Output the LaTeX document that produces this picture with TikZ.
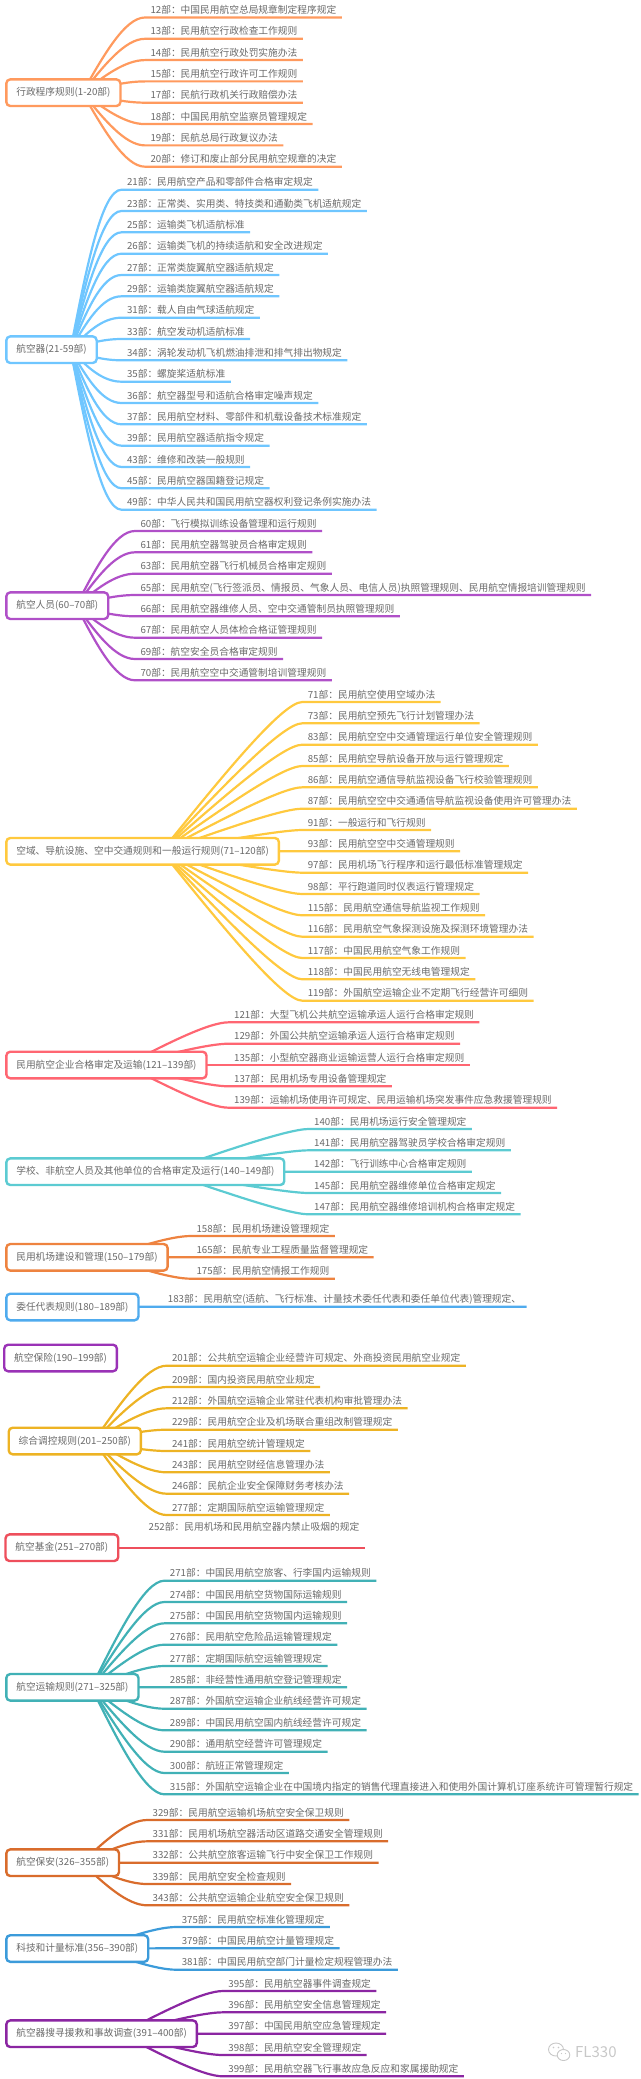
\documentclass[tikz,border=0pt]{standalone}
\usepackage{fontspec}
\setmainfont{Noto Sans CJK SC}
\usepackage{xcolor}
\usepackage{tikz}
\usetikzlibrary{calc,backgrounds}
\definecolor{ink}{HTML}{6A6A6A}
\definecolor{admorange}{HTML}{FF9A5E}
\definecolor{craftsky}{HTML}{6FC6FF}
\definecolor{crewviolet}{HTML}{B050C8}
\definecolor{spaceyellow}{HTML}{FFC93E}
\definecolor{carrierred}{HTML}{FF6672}
\definecolor{schoolcyan}{HTML}{5CCBD2}
\definecolor{portorange}{HTML}{EE8340}
\definecolor{delegblue}{HTML}{4FABEE}
\definecolor{insurpurple}{HTML}{9A32B6}
\definecolor{macrogold}{HTML}{EDB324}
\definecolor{fundred}{HTML}{EE4F5C}
\definecolor{transteal}{HTML}{41B1B6}
\definecolor{securrust}{HTML}{D96C2C}
\definecolor{metroblue}{HTML}{3C9BDA}
\definecolor{rescueplum}{HTML}{8B26A2}
\definecolor{stamp}{HTML}{C8C8C8}
\tikzset{
  leaf/.style={anchor=south west, inner xsep=5.3, inner ysep=0, text height=8, text depth=3.6, text=ink, font=\fontsize{9.72}{12}\selectfont},
  rootbox/.style={draw=#1, line width=2.4, rounded corners=4, fill=white, anchor=west, minimum height=26.6, inner xsep=10, inner ysep=0, text=ink, font=\fontsize{9.72}{12}\selectfont},
  twig/.style={line width=2.2},
}
\newcommand{\twigs}[3]{%
  \begin{scope}[on background layer]
  \coordinate (twigstart) at ($(#2.center)+(19,0)$);
  \foreach \n in {#3} {
    \coordinate (bend) at ($(\n.south west)+(-20,0)$);
    \draw[twig, draw=#1] (twigstart) .. controls ($(twigstart)!0.5!(bend)$) and (bend) .. (\n.south west) -- (\n.south east);
  }
  \end{scope}}

\begin{document}
\begin{tikzpicture}[x=1pt, y=-1pt]
\useasboundingbox (0,0) rectangle (640,2079);

% Administrative rules
\node[rootbox=admorange] (adm) at (5.1,92.7) {行政程序规则(1-20部)};
\node[leaf] (p12) at (145,17.5) {12部：中国民用航空总局规章制定程序规定};
\node[leaf] (p13) at (145,38.8) {13部：民用航空行政检查工作规则};
\node[leaf] (p14) at (145,60.1) {14部：民用航空行政处罚实施办法};
\node[leaf] (p15) at (145,81.4) {15部：民用航空行政许可工作规则};
\node[leaf] (p17) at (145,102.7) {17部：民航行政机关行政赔偿办法};
\node[leaf] (p18) at (145,124.1) {18部：中国民用航空监察员管理规定};
\node[leaf] (p19) at (145,145.4) {19部：民航总局行政复议办法};
\node[leaf] (p20) at (145,166.7) {20部：修订和废止部分民用航空规章的决定};
\twigs{admorange}{adm}{p12,p13,p14,p15,p17,p18,p19,p20}

% Aircraft
\node[rootbox=craftsky] (craft) at (5.1,349.7) {航空器(21-59部)};
\node[leaf] (p21) at (121.5,189.7) {21部：民用航空产品和零部件合格审定规定};
\node[leaf] (p23) at (121.5,211) {23部：正常类、实用类、特技类和通勤类飞机适航规定};
\node[leaf] (p25) at (121.5,232.3) {25部：运输类飞机适航标准};
\node[leaf] (p26) at (121.5,253.7) {26部：运输类飞机的持续适航和安全改进规定};
\node[leaf] (p27) at (121.5,275) {27部：正常类旋翼航空器适航规定};
\node[leaf] (p29) at (121.5,296.3) {29部：运输类旋翼航空器适航规定};
\node[leaf] (p31) at (121.5,317.7) {31部：载人自由气球适航规定};
\node[leaf] (p33) at (121.5,339) {33部：航空发动机适航标准};
\node[leaf] (p34) at (121.5,360.3) {34部：涡轮发动机飞机燃油排泄和排气排出物规定};
\node[leaf] (p35) at (121.5,381.7) {35部：螺旋桨适航标准};
\node[leaf] (p36) at (121.5,403) {36部：航空器型号和适航合格审定噪声规定};
\node[leaf] (p37) at (121.5,424.3) {37部：民用航空材料、零部件和机载设备技术标准规定};
\node[leaf] (p39) at (121.5,445.7) {39部：民用航空器适航指令规定};
\node[leaf] (p43) at (121.5,467) {43部：维修和改装一般规则};
\node[leaf] (p45) at (121.5,488.3) {45部：民用航空器国籍登记规定};
\node[leaf] (p49) at (121.5,509.7) {49部：中华人民共和国民用航空器权利登记条例实施办法};
\twigs{craftsky}{craft}{p21,p23,p25,p26,p27,p29,p31,p33,p34,p35,p36,p37,p39,p43,p45,p49}

% Aviation personnel
\node[rootbox=crewviolet] (crew) at (5.1,605.7) {航空人员(60–70部)};
\node[leaf] (p60) at (135,531) {60部：飞行模拟训练设备管理和运行规则};
\node[leaf] (p61) at (135,552.3) {61部：民用航空器驾驶员合格审定规则};
\node[leaf] (p63) at (135,573.7) {63部：民用航空器飞行机械员合格审定规则};
\node[leaf] (p65) at (135,595) {65部：民用航空(飞行签派员、情报员、气象人员、电信人员)执照管理规则、民用航空情报培训管理规则};
\node[leaf] (p66) at (135,616.3) {66部：民用航空器维修人员、空中交通管制员执照管理规则};
\node[leaf] (p67) at (135,637.7) {67部：民用航空人员体检合格证管理规则};
\node[leaf] (p69) at (135,659) {69部：航空安全员合格审定规则};
\node[leaf] (p70) at (135,680.3) {70部：民用航空空中交通管制培训管理规则};
\twigs{crewviolet}{crew}{p60,p61,p63,p65,p66,p67,p69,p70}

% Airspace and general operating rules
\node[rootbox=spaceyellow] (space) at (5.1,851.3) {空域、导航设施、空中交通规则和一般运行规则(71–120部)};
\node[leaf] (p71) at (302.3,702) {71部：民用航空使用空域办法};
\node[leaf] (p73) at (302.3,723.3) {73部：民用航空预先飞行计划管理办法};
\node[leaf] (p83) at (302.3,744.7) {83部：民用航空空中交通管理运行单位安全管理规则};
\node[leaf] (p85) at (302.3,766) {85部：民用航空导航设备开放与运行管理规定};
\node[leaf] (p86) at (302.3,787.3) {86部：民用航空通信导航监视设备飞行校验管理规则};
\node[leaf] (p87) at (302.3,808.7) {87部：民用航空空中交通通信导航监视设备使用许可管理办法};
\node[leaf] (p91) at (302.3,830) {91部：一般运行和飞行规则};
\node[leaf] (p93) at (302.3,851.3) {93部：民用航空空中交通管理规则};
\node[leaf] (p97) at (302.3,872.7) {97部：民用机场飞行程序和运行最低标准管理规定};
\node[leaf] (p98) at (302.3,894) {98部：平行跑道同时仪表运行管理规定};
\node[leaf] (p115) at (302.3,915.3) {115部：民用航空通信导航监视工作规则};
\node[leaf] (p116) at (302.3,936.7) {116部：民用航空气象探测设施及探测环境管理办法};
\node[leaf] (p117) at (302.3,958) {117部：中国民用航空气象工作规则};
\node[leaf] (p118) at (302.3,979.3) {118部：中国民用航空无线电管理规定};
\node[leaf] (p119) at (302.3,1000.7) {119部：外国航空运输企业不定期飞行经营许可细则};
\twigs{spaceyellow}{space}{p71,p73,p83,p85,p86,p87,p91,p93,p97,p98,p115,p116,p117,p118,p119}

% Carriers
\node[rootbox=carrierred] (carrier) at (5.1,1065) {民用航空企业合格审定及运输(121–139部)};
\node[leaf] (p121) at (228.7,1022.3) {121部：大型飞机公共航空运输承运人运行合格审定规则};
\node[leaf] (p129) at (228.7,1043.7) {129部：外国公共航空运输承运人运行合格审定规则};
\node[leaf] (p135) at (228.7,1065) {135部：小型航空器商业运输运营人运行合格审定规则};
\node[leaf] (p137) at (228.7,1086.3) {137部：民用机场专用设备管理规定};
\node[leaf] (p139) at (228.7,1107.7) {139部：运输机场使用许可规定、民用运输机场突发事件应急救援管理规则};
\twigs{carrierred}{carrier}{p121,p129,p135,p137,p139}

% Schools and other units
\node[rootbox=schoolcyan] (school) at (5.1,1171.7) {学校、非航空人员及其他单位的合格审定及运行(140–149部)};
\node[leaf] (p140) at (308.7,1129) {140部：民用机场运行安全管理规定};
\node[leaf] (p141) at (308.7,1150.3) {141部：民用航空器驾驶员学校合格审定规则};
\node[leaf] (p142) at (308.7,1171.7) {142部：飞行训练中心合格审定规则};
\node[leaf] (p145) at (308.7,1193) {145部：民用航空器维修单位合格审定规定};
\node[leaf] (p147) at (308.7,1214.3) {147部：民用航空器维修培训机构合格审定规定};
\twigs{schoolcyan}{school}{p140,p141,p142,p145,p147}

% Airports
\node[rootbox=portorange] (port) at (5.1,1257.3) {民用机场建设和管理(150–179部)};
\node[leaf] (p158) at (191,1236) {158部：民用机场建设管理规定};
\node[leaf] (p165) at (191,1257.3) {165部：民航专业工程质量监督管理规定};
\node[leaf] (p175) at (191,1278.7) {175部：民用航空情报工作规则};
\twigs{portorange}{port}{p158,p165,p175}

% Delegates
\node[rootbox=delegblue] (deleg) at (5.1,1307) {委任代表规则(180–189部)};
\node[leaf] (p183) at (162.4,1306.7) {183部：民用航空(适航、飞行标准、计量技术委任代表和委任单位代表)管理规定、};
\twigs{delegblue}{deleg}{p183}

% Insurance
\node[rootbox=insurpurple] (insur) at (3,1358) {航空保险(190–199部)};

% Macro control
\node[rootbox=macrogold] (macro) at (7.5,1441) {综合调控规则(201–250部)};
\node[leaf] (p201) at (166.5,1365.7) {201部：公共航空运输企业经营许可规定、外商投资民用航空业规定};
\node[leaf] (p209) at (166.5,1387) {209部：国内投资民用航空业规定};
\node[leaf] (p212) at (166.5,1408.3) {212部：外国航空运输企业常驻代表机构审批管理办法};
\node[leaf] (p229) at (166.5,1429.7) {229部：民用航空企业及机场联合重组改制管理规定};
\node[leaf] (p241) at (166.5,1451) {241部：民用航空统计管理规定};
\node[leaf] (p243) at (166.5,1472.3) {243部：民用航空财经信息管理办法};
\node[leaf] (p246) at (166.5,1493.7) {246部：民航企业安全保障财务考核办法};
\node[leaf] (p277a) at (166.5,1515) {277部：定期国际航空运输管理规定};
\twigs{macrogold}{macro}{p201,p209,p212,p229,p241,p243,p246,p277a}

% Aviation fund
\node[rootbox=fundred] (fund) at (4.3,1547.7) {航空基金(251–270部)};
\node[leaf] (p252) at (143.2,1534.5) {252部：民用机场和民用航空器内禁止吸烟的规定};
\coordinate (fundend) at (365,1548.3);
\begin{scope}[on background layer]
\draw[twig, draw=fundred] (fund.center |- fundend) -- (fundend);
\end{scope}

% Air transport
\node[rootbox=transteal] (trans) at (5.1,1687.3) {航空运输规则(271–325部)};
\node[leaf] (p271) at (164.4,1580.7) {271部：中国民用航空旅客、行李国内运输规则};
\node[leaf] (p274) at (164.4,1602) {274部：中国民用航空货物国际运输规则};
\node[leaf] (p275) at (164.4,1623.3) {275部：中国民用航空货物国内运输规则};
\node[leaf] (p276) at (164.4,1644.7) {276部：民用航空危险品运输管理规定};
\node[leaf] (p277b) at (164.4,1666) {277部：定期国际航空运输管理规定};
\node[leaf] (p285) at (164.4,1687.3) {285部：非经营性通用航空登记管理规定};
\node[leaf] (p287) at (164.4,1708.7) {287部：外国航空运输企业航线经营许可规定};
\node[leaf] (p289) at (164.4,1730.3) {289部：中国民用航空国内航线经营许可规定};
\node[leaf] (p290) at (164.4,1751.7) {290部：通用航空经营许可管理规定};
\node[leaf] (p300) at (164.4,1773) {300部：航班正常管理规定};
\node[leaf] (p315) at (164.4,1794.3) {315部：外国航空运输企业在中国境内指定的销售代理直接进入和使用外国计算机订座系统许可管理暂行规定};
\twigs{transteal}{trans}{p271,p274,p275,p276,p277b,p285,p287,p289,p290,p300,p315}

% Security
\node[rootbox=securrust] (secur) at (5.1,1862.7) {航空保安(326–355部)};
\node[leaf] (p329) at (147.2,1820) {329部：民用航空运输机场航空安全保卫规则};
\node[leaf] (p331) at (147.2,1841.3) {331部：民用机场航空器活动区道路交通安全管理规则};
\node[leaf] (p332) at (147.2,1862.7) {332部：公共航空旅客运输飞行中安全保卫工作规则};
\node[leaf] (p339) at (147.2,1884) {339部：民用航空安全检查规则};
\node[leaf] (p343) at (147.2,1905.3) {343部：公共航空运输企业航空安全保卫规则};
\twigs{securrust}{secur}{p329,p331,p332,p339,p343}

% Standards and metrology
\node[rootbox=metroblue] (metro) at (5.1,1948.5) {科技和计量标准(356–390部)};
\node[leaf] (p375) at (176.3,1927) {375部：民用航空标准化管理规定};
\node[leaf] (p379) at (176.3,1948.3) {379部：中国民用航空计量管理规定};
\node[leaf] (p381) at (176.3,1969.7) {381部：中国民用航空部门计量检定规程管理办法};
\twigs{metroblue}{metro}{p375,p379,p381}

% Search and rescue
\node[rootbox=rescueplum] (rescue) at (5.1,2033.7) {航空器搜寻援救和事故调查(391–400部)};
\node[leaf] (p395) at (222.9,1991) {395部：民用航空器事件调查规定};
\node[leaf] (p396) at (222.9,2012.3) {396部：民用航空安全信息管理规定};
\node[leaf] (p397) at (222.9,2033.7) {397部：中国民用航空应急管理规定};
\node[leaf] (p398) at (222.9,2055) {398部：民用航空安全管理规定};
\node[leaf] (p399) at (222.9,2076.3) {399部：民用航空器飞行事故应急反应和家属援助规定};
\twigs{rescueplum}{rescue}{p395,p396,p397,p398,p399}

% Stamp
\draw[stamp, line width=0.9] (556,2049.5) ellipse (7.5 and 6.5);
\draw[stamp, line width=0.9, fill=white] (563.5,2055) ellipse (6.3 and 5.5);
\fill[stamp] (553.5,2047.5) circle (0.9) (558.5,2047.5) circle (0.9) (561.5,2053.5) circle (0.7) (565.5,2053.5) circle (0.7);
\node[text=stamp, font=\fontsize{15}{18}\selectfont, anchor=west, inner sep=0] (stamptext) at (575,2052.5) {FL330};
\end{tikzpicture}
\end{document}
